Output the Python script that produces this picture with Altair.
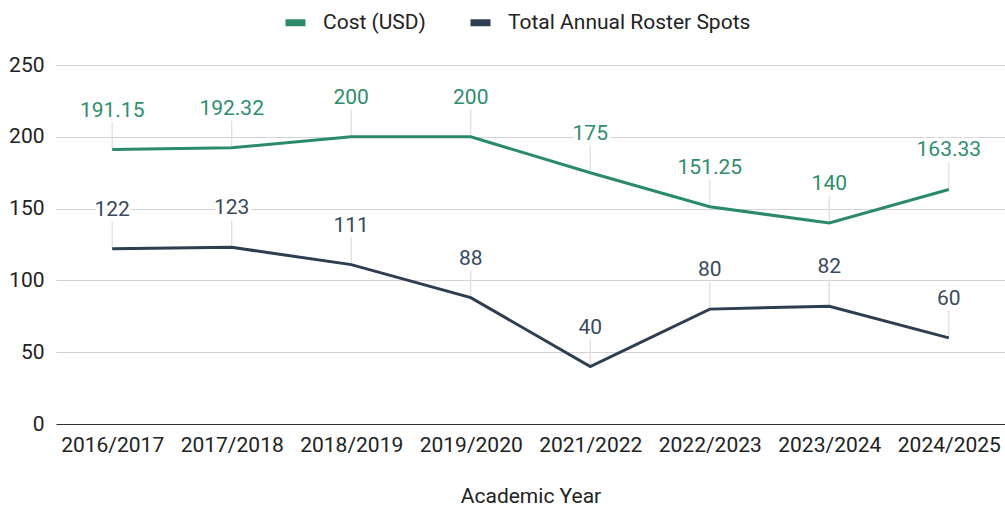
import altair as alt
import pandas as pd

years = ["2016/2017", "2017/2018", "2018/2019", "2019/2020",
         "2021/2022", "2022/2023", "2023/2024", "2024/2025"]
cost = [191.15, 192.32, 200, 200, 175, 151.25, 140, 163.33]
spots = [122, 123, 111, 88, 40, 80, 82, 60]
series_names = ["Cost (USD)", "Total Annual Roster Spots"]
series_colors = ["#2b8a6c", "#2c3e50"]
label_colors = ["#2e8d6e", "#3a4a5e"]

rows = []
for name, vals in zip(series_names, [cost, spots]):
    for y, v in zip(years, vals):
        rows.append({"year": y, "series": name, "value": v, "label": f"{v:g}"})
df = pd.DataFrame(rows)

FONT = "Roboto"
FS = 21

x = alt.X("year:O", sort=years, title="Academic Year",
          scale=alt.Scale(type="point", padding=0.47),
          axis=alt.Axis(labelAngle=0, ticks=False, domain=False, labelPadding=10,
                        labelFontSize=FS, labelColor="#222222", labelFont=FONT,
                        titleFont=FONT, titleFontSize=FS, titleFontWeight="normal",
                        titleColor="#222222", titlePadding=30, grid=False))
y = alt.Y("value:Q", title=None,
          scale=alt.Scale(domain=[0, 250], nice=False),
          axis=alt.Axis(values=[0, 50, 100, 150, 200, 250], ticks=False, domain=False,
                        grid=True,
                        gridColor={"condition": {"test": "datum.value === 0", "value": "#333333"},
                                   "value": "#d3d3d3"},
                        gridWidth=1.2,
                        labelPadding=12, labelFontSize=FS, labelColor="#222222",
                        labelFont=FONT))
color = alt.Color("series:N",
                  scale=alt.Scale(domain=series_names, range=series_colors),
                  legend=alt.Legend(title=None, orient="none", direction="horizontal",
                                    legendX=226, legendY=-56,
                                    symbolType="stroke", symbolSize=400,
                                    symbolStrokeWidth=7, labelFontSize=FS,
                                    labelFont=FONT, labelColor="#222222", labelLimit=600,
                                    labelOffset=14, columnPadding=30))

base = alt.Chart(df)

leaders = base.mark_rule(color="#dddddd", strokeWidth=1.2, y2Offset=-27).encode(
    x=x, y=y, y2="value:Q")
lines = base.mark_line(strokeWidth=3).encode(x=x, y=y, color=color)
halo = base.mark_text(fontSize=FS, font=FONT, yOffset=-39, baseline="middle",
                      fill="white", stroke="white", strokeWidth=7,
                      strokeJoin="round").encode(x=x, y=y, text="label:N")
labels = base.mark_text(fontSize=FS, font=FONT, yOffset=-39, baseline="middle").encode(
    x=x, y=y, text="label:N",
    color=alt.Color("series:N", scale=alt.Scale(domain=series_names, range=label_colors),
                    legend=None))

chart = alt.layer(leaders, lines, halo, labels).resolve_scale(color="independent").properties(
    width=949, height=359,
    autosize=alt.AutoSizeParams(type="none"),
    padding={"left": 56, "top": 65, "right": 0, "bottom": 84},
    background="white",
).configure_view(stroke=None)

chart.save("out.html", embed_options={"renderer": "svg", "actions": False})
